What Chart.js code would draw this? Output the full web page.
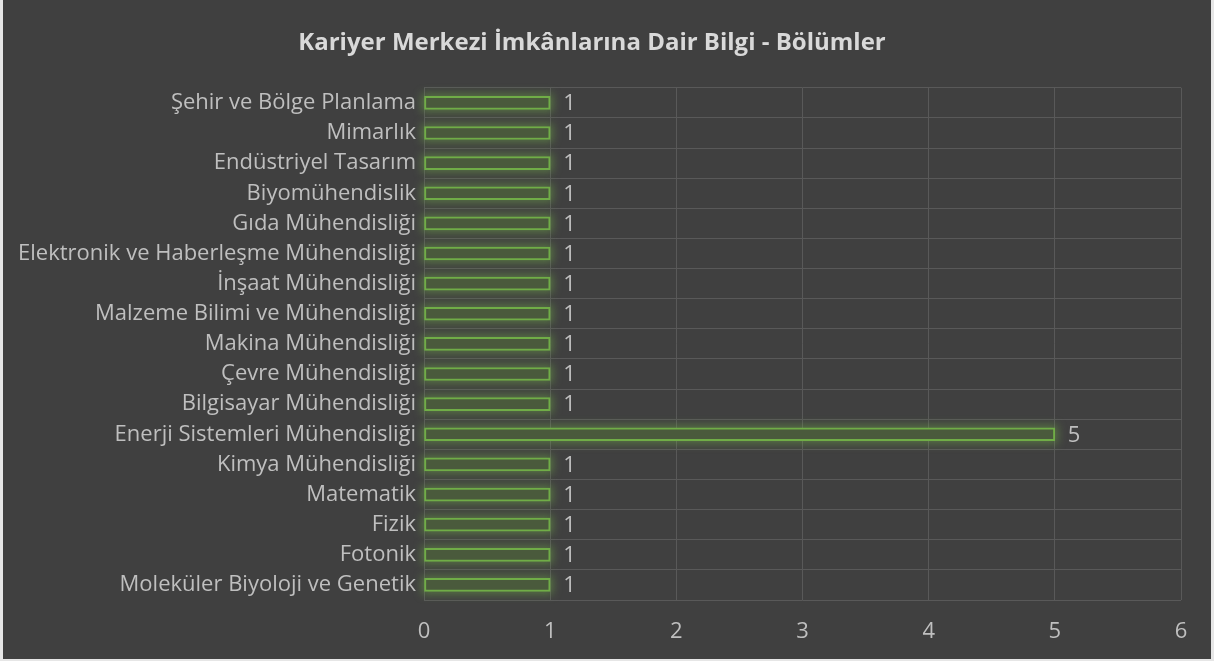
<!DOCTYPE html>
<html>
<head>
<meta charset="utf-8">
<script src="https://cdn.jsdelivr.net/npm/chart.js@4/dist/chart.umd.min.js"></script>
<style>
  html, body { margin: 0; padding: 0; background: #e6e6e6; }
  #wrap { position: absolute; left: 3px; top: 0; width: 1208px; height: 659px; background: #404040; }
</style>
</head>
<body>
<div id="wrap"><canvas id="chart" width="1208" height="659"></canvas></div>
<script>
const bolumler = [
  'Şehir ve Bölge Planlama',
  'Mimarlık',
  'Endüstriyel Tasarım',
  'Biyomühendislik',
  'Gıda Mühendisliği',
  'Elektronik ve Haberleşme Mühendisliği',
  'İnşaat Mühendisliği',
  'Malzeme Bilimi ve Mühendisliği',
  'Makina Mühendisliği',
  'Çevre Mühendisliği',
  'Bilgisayar Mühendisliği',
  'Enerji Sistemleri Mühendisliği',
  'Kimya Mühendisliği',
  'Matematik',
  'Fizik',
  'Fotonik',
  'Moleküler Biyoloji ve Genetik'
];
const sayilar = [1, 1, 1, 1, 1, 1, 1, 1, 1, 1, 1, 5, 1, 1, 1, 1, 1];
const xTicks = [0, 1, 2, 3, 4, 5, 6];

const fontName = "'Open Sans', 'DejaVu Sans', sans-serif";

// soft green glow behind each bar
const glowPlugin = {
  id: 'glow',
  beforeDatasetsDraw(chart) {
    const c = chart.ctx;
    const meta = chart.getDatasetMeta(0);
    c.save();
    c.filter = 'blur(4px)';
    c.fillStyle = 'rgba(112, 173, 71, 0.45)';
    meta.data.forEach(bar => {
      const p = bar.getProps(['x', 'y', 'base', 'height']);
      c.fillRect(p.base - 3, p.y - p.height / 2 - 3, p.x - p.base + 6, p.height + 6);
    });
    c.restore();
  }
};

// value labels at the end of each bar
const valueLabels = {
  id: 'valueLabels',
  afterDatasetsDraw(chart) {
    const c = chart.ctx;
    const meta = chart.getDatasetMeta(0);
    c.save();
    c.fillStyle = '#bfbfbf';
    c.font = '22px ' + fontName;
    c.textBaseline = 'middle';
    c.textAlign = 'left';
    meta.data.forEach((bar, i) => {
      c.fillText(String(sayilar[i]), bar.x + 13, bar.y + 1);
    });
    c.restore();
  }
};

new Chart(document.getElementById('chart'), {
  type: 'bar',
  data: {
    labels: bolumler,
    datasets: [{
      data: sayilar,
      backgroundColor: '#4a5a3c',
      borderColor: '#70ad47',
      borderWidth: 2,
      barThickness: 13,
      borderSkipped: false
    }]
  },
  options: {
    indexAxis: 'y',
    responsive: false,
    animation: false,
    layout: { padding: { left: 0, right: 30, top: 0, bottom: 0 } },
    plugins: {
      legend: { display: false },
      tooltip: { enabled: false },
      title: {
        display: true,
        text: 'Kariyer Merkezi İmkânlarına Dair Bilgi - Bölümler',
        color: '#d9d9d9',
        font: { family: fontName, size: 24, weight: 'bold' },
        padding: { top: 29, bottom: 30 }
      }
    },
    scales: {
      x: {
        min: 0,
        max: 6,
        afterBuildTicks(axis) { axis.ticks = xTicks.map(v => ({ value: v })); },
        afterFit(axis) { axis.height = 59; },
        grid: { color: '#595959', lineWidth: 1, drawTicks: false },
        border: { display: false },
        ticks: { color: '#bfbfbf', font: { family: fontName, size: 22 }, padding: 19 }
      },
      y: {
        afterFit(axis) { axis.width = 421; },
        grid: { color: '#595959', lineWidth: 1, drawTicks: false, offset: true },
        border: { display: false },
        ticks: { color: '#bfbfbf', font: { family: fontName, size: 22 }, padding: 8, autoSkip: false }
      }
    }
  },
  plugins: [glowPlugin, valueLabels]
});
</script>
</body>
</html>
